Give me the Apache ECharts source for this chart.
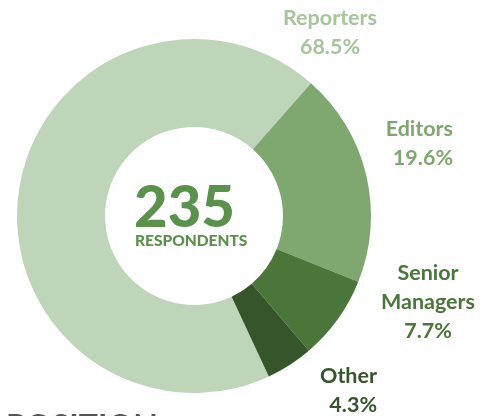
<!DOCTYPE html>
<html>
<head>
<meta charset="utf-8">
<script src="https://cdn.jsdelivr.net/npm/echarts@6/dist/echarts.min.js"></script>
<style>
  html, body { margin: 0; padding: 0; background: #fff; }
  #main { width: 492px; height: 416px; }
</style>
</head>
<body>
<div id="main"></div>
<script>
    // data
    var categories = ['Reporters', 'Editors', 'Senior Managers', 'Other'];
    var shares = [68.5, 19.6, 7.7, 4.3];
    var totalRespondents = 235;

    var sliceColors = ['#bfd5b9', '#7ea86f', '#4a763a', '#36552a'];
    var labelColors = ['#a5c59b', '#7ea86f', '#4a763a', '#36552a'];
    // where each label block sits: [x, y(middle), align]
    var labelSpots = [[330, 33, 'center'], [453, 144, 'right'], [428, 302, 'center'], [377, 391, 'right']];

    var myChart = echarts.init(document.getElementById('main'));

    var datas = [];
    categories.forEach(function (c, i) {
        datas.push({
            name: c,
            value: shares[i],
            itemStyle: { color: sliceColors[i] },
            label: { color: labelColors[i] }
        });
    });

    var option = {
        animation: false,
        graphic: [
            {
                type: 'text',
                left: 194 - 60, top: 179,
                style: {
                    text: String(totalRespondents),
                    x: 60, align: 'center',
                    font: '900 58px Lato',
                    fill: '#5a914b'
                }
            },
            {
                type: 'text',
                left: 195 - 60, top: 233,
                style: {
                    text: 'RESPONDENTS',
                    x: 60, align: 'center',
                    font: '900 15.5px Lato',
                    fill: '#5a914b'
                }
            },
            {
                // heading of the next block, cut off by the frame
                type: 'text',
                left: 6, top: 412,
                style: {
                    text: 'POSITION',
                    font: 'bold 32px Lato',
                    fill: '#555555'
                }
            }
        ],
        series: [
            {
                type: 'pie',
                center: [194, 216],
                radius: [89, 177],
                startAngle: -65,
                clockwise: true,
                silent: true,
                data: datas,
                label: {
                    show: true,
                    position: 'outside',
                    fontFamily: 'Lato',
                    fontWeight: 'bold',
                    fontSize: 21.5,
                    lineHeight: 29,
                    overflow: 'none',
                    formatter: function (p) {
                        return p.name.replace(' ', '\n') + '\n' + p.value + '%';
                    }
                },
                labelLine: { show: false },
                labelLayout: function (params) {
                    var s = labelSpots[params.dataIndex];
                    return { x: s[0], y: s[1], align: s[2], verticalAlign: 'middle', hideOverlap: false };
                }
            }
        ]
    };

    myChart.setOption(option);
</script>
</body>
</html>
